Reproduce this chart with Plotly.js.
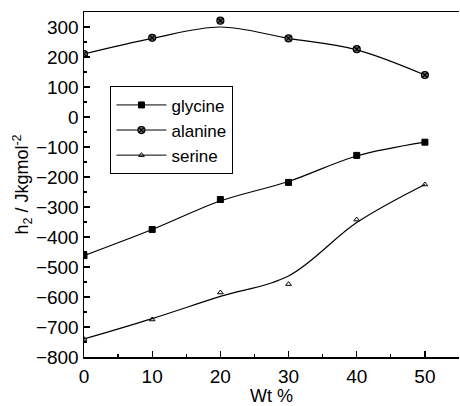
<!DOCTYPE html>
<html><head><meta charset="utf-8">
<script src="https://cdn.plot.ly/plotly-3.0.1.min.js"></script>
<style>html,body{margin:0;padding:0;background:#fff}#c{width:460px;height:406px}</style>
</head><body><div id="c"></div>
<script>
const wt = [0, 10, 20, 30, 40, 50];
const glycine = [-462, -375, -275, -218, -128, -84];
const alanine = [210, 264, 321, 262, 226, 140];
const serine = [-740, -675, -585, -557, -342, -225];
const glycineFit = [-462, -375, -280, -215, -130, -84];
const alanineFit = [210, 262, 300, 262, 224, 140];
const serineFit = [-740, -672, -598, -530, -352, -225];
const xTicks = [0, 10, 20, 30, 40, 50];
const yTicks = [-800, -700, -600, -500, -400, -300, -200, -100, 0, 100, 200, 300];

const font = {family: 'Liberation Sans, Arial, sans-serif', color: '#000'};
function f(size) { return Object.assign({size: size}, font); }
function fit(y) {
  return {x: wt, y: y, mode: 'lines', line: {color: '#000', width: 1.2, shape: 'spline', smoothing: 1}, showlegend: false, hoverinfo: 'skip'};
}
function pts(y, name, marker) {
  return {x: wt, y: y, name: name, mode: 'lines+markers', line: {color: 'rgba(0,0,0,0)', width: 1}, marker: marker};
}
const data = [
  fit(glycineFit), fit(alanineFit), fit(serineFit),
  pts(glycine, 'glycine', {symbol: 'square', size: 6, color: '#000', line: {color: '#000', width: 1}}),
  pts(alanine, 'alanine', {symbol: 'circle-x', size: 7, color: '#666', line: {color: '#000', width: 1.2}}),
  pts(serine, 'serine', {symbol: 'triangle-up-open', size: 5, color: '#000', line: {color: '#000', width: 1}})
];

const layout = {
  width: 460, height: 406,
  margin: {l: 84, r: 1, t: 12, b: 49},
  paper_bgcolor: '#fff', plot_bgcolor: '#fff',
  font: f(19),
  xaxis: {range: [0, 55], tickvals: xTicks, ticks: 'inside', ticklen: 6, tickwidth: 1.2, tickcolor: '#000',
    minor: {dtick: 5, ticks: 'inside', ticklen: 3, tickcolor: '#000'},
    showline: true, linecolor: '#000', linewidth: 1.5, mirror: true, showgrid: false, zeroline: false,
    tickfont: f(19), ticklabelstandoff: 2,
    title: {text: 'Wt %', font: f(18), standoff: 2}},
  yaxis: {range: [-800, 350], tickvals: yTicks, ticks: 'inside', ticklen: 6, tickwidth: 1.2, tickcolor: '#000',
    minor: {dtick: 50, ticks: 'inside', ticklen: 3, tickcolor: '#000'},
    showline: true, linecolor: '#000', linewidth: 1.5, showgrid: false, zeroline: false,
    tickfont: f(19),
    title: {text: 'h<sub>2</sub> / Jkgmol<sup>-2</sup>', font: f(18), standoff: 2}},
  legend: {x: 0.07, y: 0.785, xanchor: 'left', yanchor: 'top', bgcolor: '#fff',
    bordercolor: '#000', borderwidth: 1.2, font: f(17),
    tracegroupgap: 0, itemwidth: 50}
};
Plotly.newPlot('c', data, layout, {displayModeBar: false, staticPlot: true}).then(function(){
  document.querySelectorAll('.legend .js-line').forEach(function(p){ p.style.stroke = '#000'; p.style.strokeOpacity = 1; });
});
</script>
</body></html>
